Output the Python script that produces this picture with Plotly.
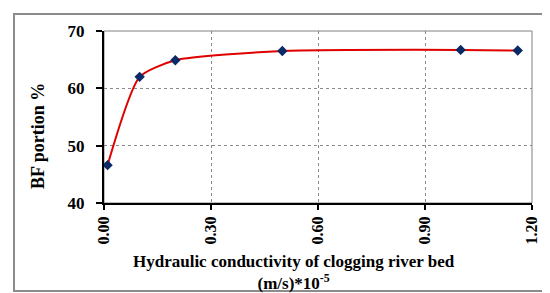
import plotly.graph_objects as go

# data
conductivity = [0.01, 0.10, 0.20, 0.50, 1.00, 1.16]
bf_portion = [46.6, 62.0, 64.9, 66.5, 66.7, 66.6]
x_ticks = [0.0, 0.3, 0.6, 0.9, 1.2]
y_ticks = [40, 50, 60, 70]

W, H = 550, 293
L, R, T, B = 96, 26, 23, 98
pw, ph = W - L - R, H - T - B


def px_x(p):
    return (p - L) / pw


def px_y(p):
    return (H - B - p) / ph


font_xtick = dict(family="Liberation Serif", size=16, color="black", weight="bold")
font_ytick = dict(family="Liberation Serif", size=17, color="black", weight="bold")
font_title = dict(family="Liberation Serif", size=18, color="black", weight="bold")
font_xtitle = dict(family="Liberation Serif", size=17, color="black", weight="bold")

fig = go.Figure()
fig.add_trace(go.Scatter(
    x=conductivity, y=bf_portion,
    mode="lines+markers",
    line=dict(color="#e00000", width=2, shape="spline", smoothing=0.6),
    marker=dict(symbol="diamond", size=8, color="#0a2a66"),
    showlegend=False,
))

fig.update_layout(
    width=W, height=H,
    margin=dict(l=L, r=R, t=T, b=B),
    paper_bgcolor="white", plot_bgcolor="white",
    shapes=[
        # plot area frame (gray)
        dict(type="rect", xref="paper", yref="paper", x0=0, x1=1, y0=0, y1=1,
             line=dict(color="#808080", width=1), layer="below"),
        # outer chart border
        dict(type="rect", xref="paper", yref="paper",
             x0=px_x(6), x1=px_x(542), y0=px_y(283), y1=px_y(6),
             line=dict(color="#8c8c8c", width=2)),
    ],
    annotations=[
        dict(text="Hydraulic conductivity of clogging river bed<br>(m/s)*10<sup>-5</sup>",
             xref="paper", yref="paper", x=px_x(286), y=px_y(242),
             xanchor="center", yanchor="top", align="center",
             showarrow=False, font=font_xtitle),
        dict(text="BF portion %", textangle=-90,
             xref="paper", yref="paper", x=px_x(30), y=px_y(128),
             xanchor="center", yanchor="middle", showarrow=False, font=font_title),
    ],
)

fig.update_xaxes(
    range=[0, 1.2], tickvals=x_ticks, tickformat=".2f", tickangle=-90,
    tickfont=font_xtick, ticks="outside", ticklen=5, tickwidth=2, tickcolor="black",
    showline=True, linecolor="black", linewidth=2,
    showgrid=True, gridcolor="#8a8a8a", gridwidth=1, griddash="dot",
    zeroline=False, fixedrange=True,
)
fig.update_yaxes(
    range=[40, 70], tickvals=y_ticks,
    tickfont=font_ytick, ticks="outside", ticklen=6, tickwidth=2, tickcolor="black",
    ticklabelstandoff=8,
    showline=True, linecolor="black", linewidth=2,
    showgrid=True, gridcolor="#8a8a8a", gridwidth=1, griddash="dot",
    zeroline=False, fixedrange=True,
)

fig.write_html("out.html")
